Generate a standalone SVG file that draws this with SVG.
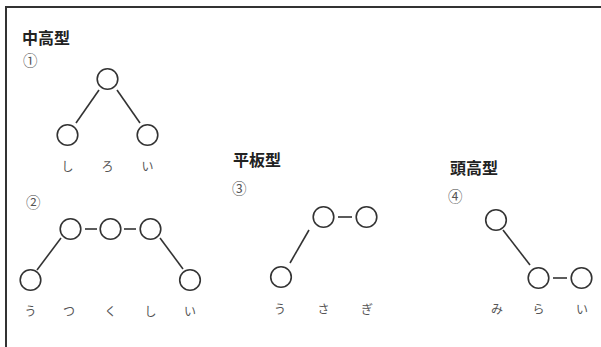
<svg xmlns="http://www.w3.org/2000/svg" width="601" height="347" viewBox="0 0 601 347">
<style>
.n{fill:#fff;stroke:#333;stroke-width:1.6}
.c{stroke:#333;stroke-width:1.6;fill:none}
.t{font-family:"Noto Sans CJK JP",sans-serif;font-weight:bold;font-size:16px;fill:#222}
.num{font-family:"Noto Sans CJK JP",sans-serif;font-size:14.5px;fill:#555}
.k{font-family:"Noto Sans CJK JP",sans-serif;font-size:12px;fill:#555;text-anchor:middle}
</style>
<rect width="601" height="347" fill="#fff"/>
<path d="M6,347 V7 H601" fill="none" stroke="#333" stroke-width="2"/>
<text class="t" x="22" y="44">中高型</text>
<text class="num" x="23" y="66">①</text>
<text class="t" x="233" y="166">平板型</text>
<text class="num" x="26" y="208">②</text>
<text class="num" x="232" y="194">③</text>
<text class="t" x="450" y="174">頭高型</text>
<text class="num" x="448" y="202">④</text>
<g id="connectors">
<line class="c" x1="99" y1="90" x2="76" y2="123"/>
<line class="c" x1="117" y1="90" x2="140" y2="123"/>
<line class="c" x1="61" y1="238" x2="37" y2="270"/>
<line class="c" x1="85" y1="229" x2="97" y2="229"/>
<line class="c" x1="124" y1="229" x2="136" y2="229"/>
<line class="c" x1="160" y1="238" x2="183" y2="269"/>
<line class="c" x1="309" y1="230" x2="290" y2="263"/>
<line class="c" x1="338" y1="217" x2="352" y2="217"/>
<line class="c" x1="503" y1="230" x2="530" y2="265"/>
<line class="c" x1="553" y1="278" x2="567" y2="278"/>
</g>
<g id="n1-top"><circle class="n" cx="107.5" cy="79" r="10.3"/></g>
<g id="n1-shi"><circle class="n" cx="67.5" cy="135" r="10.3"/></g>
<g id="n1-i"><circle class="n" cx="147.5" cy="135" r="10.3"/></g>
<g id="n2-u"><circle class="n" cx="30.5" cy="280" r="10.3"/></g>
<g id="n2-tsu"><circle class="n" cx="70.5" cy="229" r="10.3"/></g>
<g id="n2-ku"><circle class="n" cx="110.5" cy="229" r="10.3"/></g>
<g id="n2-shi"><circle class="n" cx="150.5" cy="229" r="10.3"/></g>
<g id="n2-i"><circle class="n" cx="190" cy="280" r="10.3"/></g>
<g id="n3-u"><circle class="n" cx="281" cy="277" r="10.3"/></g>
<g id="n3-sa"><circle class="n" cx="323.5" cy="217" r="10.3"/></g>
<g id="n3-gi"><circle class="n" cx="366.5" cy="217" r="10.3"/></g>
<g id="n4-mi"><circle class="n" cx="496" cy="220" r="10.3"/></g>
<g id="n4-ra"><circle class="n" cx="538.5" cy="278" r="10.3"/></g>
<g id="n4-i"><circle class="n" cx="581.5" cy="278" r="10.3"/></g>
<text class="k" x="67.5" y="171">し</text>
<text class="k" x="107.5" y="171">ろ</text>
<text class="k" x="147.5" y="171">い</text>
<text class="k" x="30.5" y="316">う</text>
<text class="k" x="69" y="316">つ</text>
<text class="k" x="110.5" y="316">く</text>
<text class="k" x="150.5" y="316">し</text>
<text class="k" x="190" y="316">い</text>
<text class="k" x="280" y="314">う</text>
<text class="k" x="323.5" y="314">さ</text>
<text class="k" x="367" y="314">ぎ</text>
<text class="k" x="497" y="314">み</text>
<text class="k" x="538.5" y="314">ら</text>
<text class="k" x="582" y="314">い</text>
</svg>
